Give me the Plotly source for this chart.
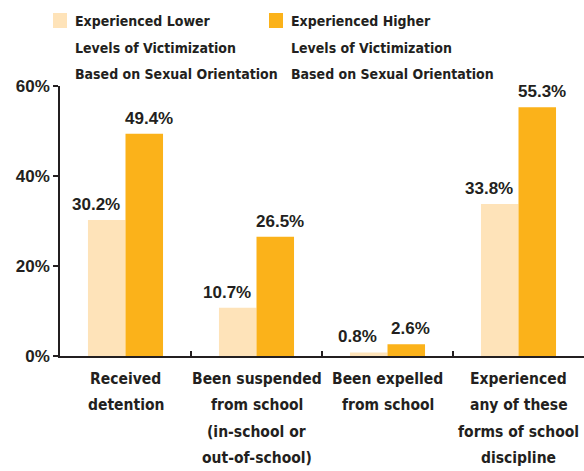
import plotly.graph_objects as go

categories = ["Received detention", "Been suspended from school", "Been expelled from school", "Experienced any of these forms of school discipline"]
category_lines = [
    ["Received", "detention"],
    ["Been suspended", "from school", "(in-school or", "out-of-school)"],
    ["Been expelled", "from school"],
    ["Experienced", "any of these", "forms of school", "discipline"],
]
series_names = ["Experienced Lower", "Experienced Higher"]
legend_lines = [
    ["Experienced Lower", "Levels of Victimization", "Based on Sexual Orientation"],
    ["Experienced Higher", "Levels of Victimization", "Based on Sexual Orientation"],
]
lower_values = [30.2, 10.7, 0.8, 33.8]
higher_values = [49.4, 26.5, 2.6, 55.3]
y_ticks = [0, 20, 40, 60]
y_tick_labels = ["0%", "20%", "40%", "60%"]

LIGHT = "#FEE3B9"
ORANGE = "#FBB21A"
INK = "#231F20"
NARROW = "DejaVu Sans Condensed, Liberation Sans Narrow, sans-serif"
BOLD = "Liberation Sans, Arial, sans-serif"

W, H = 584, 471
ML, MR, MT, MB = 60, 0, 86, 115
PW, PH = W - ML - MR, H - MT - MB

def px_to_paper_x(px):
    return (px - ML) / PW

def px_to_paper_y(py):
    return 1 + (MT - py) / PH

fig = go.Figure()
for name, vals, col in [(series_names[0], lower_values, LIGHT), (series_names[1], higher_values, ORANGE)]:
    fig.add_trace(go.Bar(
        x=categories, y=vals, name=name, marker=dict(color=col, line=dict(width=0)),
        showlegend=False, hoverinfo="skip",
    ))

annotations = []
# value labels, anchored to each bar's value on the y axis
for vals, xs in [(lower_values, -30), (higher_values, 23)]:
    for cat, v in zip(categories, vals):
        annotations.append(dict(
            x=cat, xref="x", y=v, yref="y", xshift=xs, yshift=4,
            text=f"{v:.1f}%", showarrow=False, xanchor="center", yanchor="bottom",
            font=dict(family=BOLD, size=17, color=INK, weight="bold"),
        ))
for cat, lines in zip(categories, category_lines):
    for i, line in enumerate(lines):
        annotations.append(dict(
            x=cat, xref="x", y=px_to_paper_y(379 + i * 26.3), yref="paper",
            text=line, showarrow=False, xanchor="center", yanchor="middle",
            font=dict(family=NARROW, size=15.5, color=INK, weight="bold"),
        ))
shapes = []
for (sx, tx), lines, col in zip([(53, 73), (269, 289)], legend_lines, [LIGHT, ORANGE]):
    shapes.append(dict(type="rect", xref="paper", yref="paper",
                       x0=px_to_paper_x(sx), x1=px_to_paper_x(sx + 14),
                       y0=px_to_paper_y(28), y1=px_to_paper_y(13),
                       fillcolor=col, line=dict(width=0)))
    for i, line in enumerate(lines):
        annotations.append(dict(
            x=px_to_paper_x(tx), xref="paper", y=px_to_paper_y(21 + i * 26.5), yref="paper",
            text=line, showarrow=False, xanchor="left", yanchor="middle",
            font=dict(family=NARROW, size=14, color=INK, weight="bold"),
        ))

fig.update_layout(
    width=W, height=H, margin=dict(l=ML, r=MR, t=MT, b=MB, autoexpand=False),
    paper_bgcolor="white", plot_bgcolor="white",
    barmode="group", bargap=0.427, bargroupgap=0,
    annotations=annotations, shapes=shapes, showlegend=False,
)
fig.update_xaxes(
    type="category", range=[-0.5, 3.5], showticklabels=False, automargin=False,
    showline=True, linecolor=INK, linewidth=1.5,
    ticks="inside", tickson="boundaries", ticklen=5, tickcolor=INK, tickwidth=1.5,
    showgrid=False, zeroline=False,
)
fig.update_yaxes(
    range=[0, 60], tickvals=y_ticks, ticktext=y_tick_labels, automargin=False,
    showline=True, linecolor=INK, linewidth=1.5,
    ticks="outside", ticklen=5, tickcolor=INK, tickwidth=1.5,
    tickfont=dict(family=BOLD, size=17, color=INK, weight="bold"),
    showgrid=False, zeroline=False,
)
fig.write_html("out.html", config={"displayModeBar": False},
               post_script="document.body.style.margin='0';document.body.style.overflow='hidden';")
